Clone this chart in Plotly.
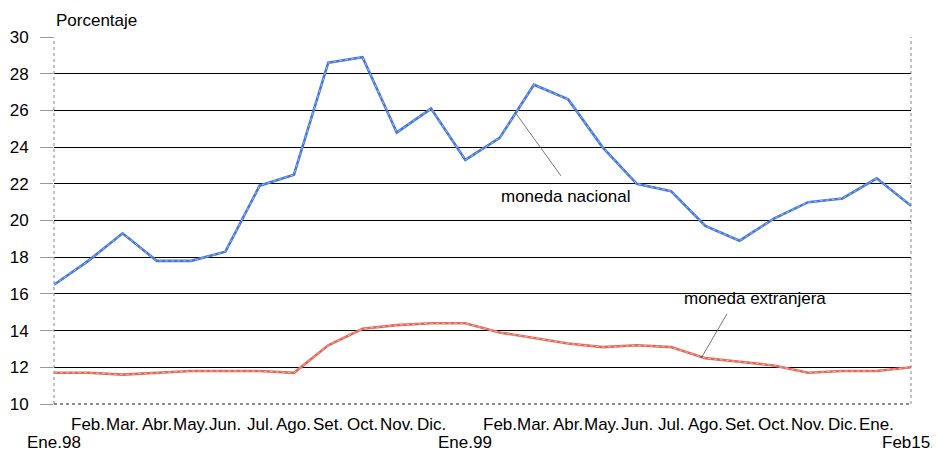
import plotly.graph_objects as go

months = ["Ene.98", "Feb.", "Mar.", "Abr.", "May.", "Jun.", "Jul.", "Ago.", "Set.", "Oct.", "Nov.", "Dic.",
          "Ene.99", "Feb.", "Mar.", "Abr.", "May.", "Jun.", "Jul.", "Ago.", "Set.", "Oct.", "Nov.", "Dic.",
          "Ene.", "Feb15."]
row2_idx = [0, 12, 25]

nacional = [16.5, 17.8, 19.3, 17.8, 17.8, 18.3, 21.9, 22.5, 28.6, 28.9, 24.8, 26.1,
            23.3, 24.5, 27.4, 26.6, 24.0, 22.0, 21.6, 19.7, 18.9, 20.1, 21.0, 21.2,
            22.3, 20.8]
extranjera = [11.7, 11.7, 11.6, 11.7, 11.8, 11.8, 11.8, 11.7, 13.2, 14.1, 14.3, 14.4,
              14.4, 13.9, 13.6, 13.3, 13.1, 13.2, 13.1, 12.5, 12.3, 12.1, 11.7, 11.8,
              11.8, 12.0]
y_ticks = [10, 12, 14, 16, 18, 20, 22, 24, 26, 28, 30]

x = list(range(len(months)))
FONT = "Liberation Sans, Arial, sans-serif"
FS = 17

fig = go.Figure()
fig.add_trace(go.Scatter(x=x, y=nacional, mode="lines", line=dict(color="#4676d6", width=2.6),
                         showlegend=False, hoverinfo="skip"))
fig.add_trace(go.Scatter(x=x, y=nacional, mode="lines", line=dict(color="#9dbbf0", width=1, dash="dot"),
                         showlegend=False, name="moneda nacional"))
fig.add_trace(go.Scatter(x=x, y=extranjera, mode="lines", line=dict(color="#e06a5a", width=2.6),
                         showlegend=False, hoverinfo="skip"))
fig.add_trace(go.Scatter(x=x, y=extranjera, mode="lines", line=dict(color="#f4b0a6", width=1, dash="dot"),
                         showlegend=False, name="moneda extranjera"))

annotations = []
last = len(months) - 1
for i, m in enumerate(months):
    shift = -38 if i in row2_idx else -20
    annotations.append(dict(x=i, y=0, xref="x", yref="paper", text=m, showarrow=False,
                            xanchor="center", yanchor="middle", yshift=shift,
                            xshift=-3 if i == last else 0,
                            font=dict(size=FS, color="black", family=FONT)))

annotations.append(dict(x=0, y=1.0, xref="paper", yref="paper", text="Porcentaje", showarrow=False,
                        xanchor="left", yanchor="middle", yshift=17, font=dict(size=FS, color="black", family=FONT)))
# callouts
annotations.append(dict(x=13.45, y=25.9, xref="x", yref="y", ax=14.82, ay=22.35, axref="x", ayref="y",
                        text="", showarrow=True, arrowhead=0, arrowwidth=0.8, arrowcolor="#555555"))
annotations.append(dict(x=14.93, y=21.3, xref="x", yref="y", text="moneda nacional", showarrow=False,
                        xanchor="center", yanchor="middle", font=dict(size=FS, color="black", family=FONT)))
annotations.append(dict(x=18.88, y=12.5, xref="x", yref="y", ax=19.66, ay=15.0, axref="x", ayref="y",
                        text="", showarrow=True, arrowhead=2, arrowsize=0.5, arrowwidth=0.8, arrowcolor="#555555"))
annotations.append(dict(x=20.45, y=15.75, xref="x", yref="y", text="moneda extranjera", showarrow=False,
                        xanchor="center", yanchor="middle", font=dict(size=FS, color="black", family=FONT)))

shapes = [
    dict(type="line", xref="paper", yref="paper", x0=1, x1=1, y0=0, y1=1,
         line=dict(color="#888888", width=1, dash="dot")),
    dict(type="line", xref="paper", yref="paper", x0=0, x1=0, y0=0, y1=1,
         line=dict(color="#888888", width=1, dash="dot")),
    dict(type="line", xref="paper", yref="paper", x0=0, x1=1, y0=0, y1=0,
         line=dict(color="#666666", width=1.5, dash="dot")),
]

fig.update_layout(
    width=932, height=447,
    margin=dict(l=46, r=29, t=29, b=51, autoexpand=False),
    paper_bgcolor="white", plot_bgcolor="white",
    font=dict(family=FONT, size=FS, color="black"),
    xaxis=dict(range=[0, last], showgrid=False, zeroline=False, showticklabels=False,
               showline=False, ticks="", automargin=False),
    yaxis=dict(range=[10, 30], tickvals=y_ticks, showgrid=True, gridcolor="black", gridwidth=1,
               zeroline=False, showline=False, ticks="outside", ticklen=13, tickcolor="#999999",
               ticklabelstandoff=8, automargin=False,
               tickfont=dict(size=FS, family=FONT, color="black")),
    annotations=annotations,
    shapes=shapes,
    showlegend=False,
)

fig.write_html("out.html")
